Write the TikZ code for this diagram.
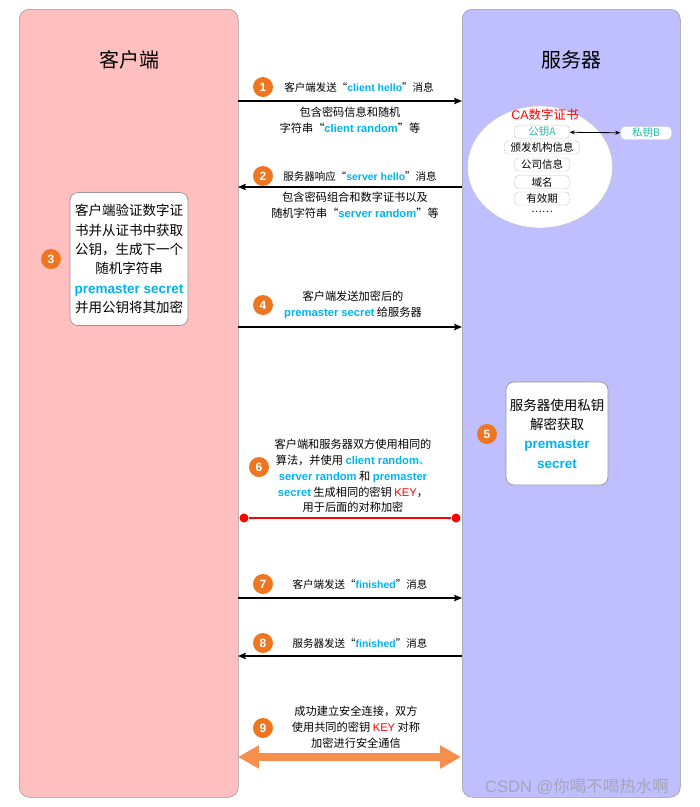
\documentclass[tikz,border=0pt]{standalone}
\usepackage{fontspec}
\usepackage{xcolor}
\usetikzlibrary{arrows.meta,positioning,shapes.geometric}
\setmainfont{Noto Sans CJK SC}
\newfontfamily\enfont{Liberation Sans}
\definecolor{clientpink}{RGB}{255,191,191}
\definecolor{serverlilac}{RGB}{191,191,255}
\definecolor{steporange}{RGB}{238,118,32}
\definecolor{arroworange}{RGB}{245,143,75}
\definecolor{hintcyan}{RGB}{0,178,238}
\definecolor{keyteal}{RGB}{40,188,165}
\definecolor{framegray}{RGB}{150,150,150}
\newcommand{\kw}[1]{\textcolor{hintcyan}{\enfont\bfseries #1}}
\newcommand{\kred}[1]{\textcolor{red}{\enfont #1}}

\begin{document}
\begin{tikzpicture}[x=1pt, y=-1pt, >={Stealth[length=8pt,width=6.5pt,inset=1.5pt]},
    lane/.style={draw=framegray, line width=0.5pt, rounded corners=10pt, anchor=north west, minimum width=219pt, minimum height=788pt},
    coltitle/.style={font=\fontsize{20}{20}\selectfont},
    badge/.style={circle, fill=steporange, text=white, minimum size=20pt, inner sep=0pt, font=\enfont\bfseries\fontsize{12}{12}\selectfont},
    msg/.style={font=\fontsize{10.5}{11}\selectfont, inner sep=0pt},
    note/.style={font=\fontsize{11.2}{15.8}\selectfont, align=center, inner sep=0pt},
    card/.style={draw=framegray, line width=0.7pt, fill=white, rounded corners=8pt, align=center, font=\fontsize{13.5}{19.3}\selectfont},
    field/.style={draw=gray!45, fill=white, rounded corners=4pt, minimum width=55pt, minimum height=13pt, inner sep=1pt, font=\fontsize{10.5}{10.5}\selectfont},
    flow/.style={->, line width=1.1pt},
    dot/.style={circle, fill=red, minimum size=9pt, inner sep=0pt}]
    \useasboundingbox (0,0) rectangle (700,807);

    % the two parties
    \node[lane, fill=clientpink] (client) at (19,9) {};
    \node[lane, fill=serverlilac, minimum width=218pt] (server) at (462,9) {};
    \node[coltitle] (clienttitle) at (129,60) {客户端};
    \node[coltitle] (servertitle) at (571,60) {服务器};

    % 1 client hello
    \coordinate (c1) at (238,101);
    \coordinate (s1) at (462,101);
    \node[badge] (b1) at (263,87) {1};
    \node[msg] (m1) at (359,87) {客户端发送“\kw{client hello}”消息};
    \draw[flow] (c1) -- (s1);
    \node[note] (n1) at (350,120) {包含密码信息和随机\\字符串“\kw{client random}”等};

    % 2 server hello
    \coordinate (c2) at (238,187);
    \coordinate (s2) at (462,187);
    \node[badge] (b2) at (263,176) {2};
    \node[msg] (m2) at (360,176) {服务器响应“\kw{server hello}”消息};
    \draw[flow] (s2) -- (c2);
    \node[note] (n2) at (355,205) {包含密码组合和数字证书以及\\随机字符串“\kw{server random}”等};

    % CA certificate
    \node[ellipse, draw=gray!50, fill=white, minimum width=145pt, minimum height=122pt] (ca) at (540,167) {};
    \node[text=red, font=\fontsize{12.5}{12}\selectfont] (catitle) at (545,115) {{\enfont CA}数字证书};
    \node[field, text=keyteal] (pubkey) at (542,132) {公钥A};
    \node[field, minimum width=75pt] (issuer) at (542,147.5) {颁发机构信息};
    \node[field] (company) at (542,164.5) {公司信息};
    \node[field] (domain) at (542,182) {域名};
    \node[field] (validity) at (542,198.5) {有效期};
    \node[font=\fontsize{10}{10}\selectfont] (more) at (542,212) {……};
    \node[field, minimum width=51pt, text=keyteal] (privkey) at (646,133) {私钥B};
    \draw[{Stealth[length=5pt,width=4pt]}-{Stealth[length=5pt,width=4pt]}, line width=0.8pt] (pubkey) -- (privkey);

    % 3 client verifies
    \node[card, minimum width=118pt, minimum height=133pt] (verify) at (129,259) {客户端验证数字证\\书并从证书中获取\\公钥，生成下一个\\随机字符串\\\kw{premaster secret}\\并用公钥将其加密};
    \node[badge] (b3) at (51,259) {3};

    % 4 premaster secret
    \coordinate (c4) at (238,327);
    \coordinate (s4) at (462,327);
    \node[badge] (b4) at (263,305) {4};
    \node[note] (n4) at (353,305) {客户端发送加密后的\\\kw{premaster secret} 给服务器};
    \draw[flow] (c4) -- (s4);

    % 5 server decrypts
    \node[card, minimum width=102pt, minimum height=103pt] (decrypt) at (557,433.5) {服务器使用私钥\\解密获取\\\kw{premaster}\\\kw{secret}};
    \node[badge] (b5) at (487,434) {5};

    % 6 shared key
    \node[badge] (b6) at (259,467) {6};
    \node[note] (n6) at (353,476) {客户端和服务器双方使用相同的\\算法，并使用 \kw{client random}\textcolor{hintcyan}{、}\\\kw{server random} 和 \kw{premaster}\\\kw{secret} 生成相同的密钥 \kred{KEY}，\\用于后面的对称加密};
    \node[dot] (dotl) at (244,518) {};
    \node[dot] (dotr) at (456,518) {};
    \draw[red, line width=1.5pt] (dotl) -- (dotr);

    % 7 client finished
    \coordinate (c7) at (238,598);
    \coordinate (s7) at (462,598);
    \node[badge] (b7) at (263,584) {7};
    \node[msg] (m7) at (360,584) {客户端发送“\kw{finished}”消息};
    \draw[flow] (c7) -- (s7);

    % 8 server finished
    \coordinate (c8) at (238,656);
    \coordinate (s8) at (462,656);
    \node[badge] (b8) at (263,643) {8};
    \node[msg] (m8) at (360,643) {服务器发送“\kw{finished}”消息};
    \draw[flow] (s8) -- (c8);

    % 9 secure channel
    \coordinate (c9) at (238,757);
    \coordinate (s9) at (461,757);
    \node[badge] (b9) at (263,728) {9};
    \node[note] (n9) at (356,727) {成功建立安全连接，双方\\使用共同的密钥 \kred{KEY} 对称\\加密进行安全通信};
    \draw[arroworange, line width=7.5pt, {Triangle[length=21pt,width=22pt]}-{Triangle[length=21pt,width=22pt]}] (c9) -- (s9);

    \node[text={rgb,255:red,165;green,165;blue,185}, font=\fontsize{16.5}{17}\selectfont] (mark) at (577,787) {{\enfont CSDN @}你喝不喝热水啊};
\end{tikzpicture}
\end{document}
